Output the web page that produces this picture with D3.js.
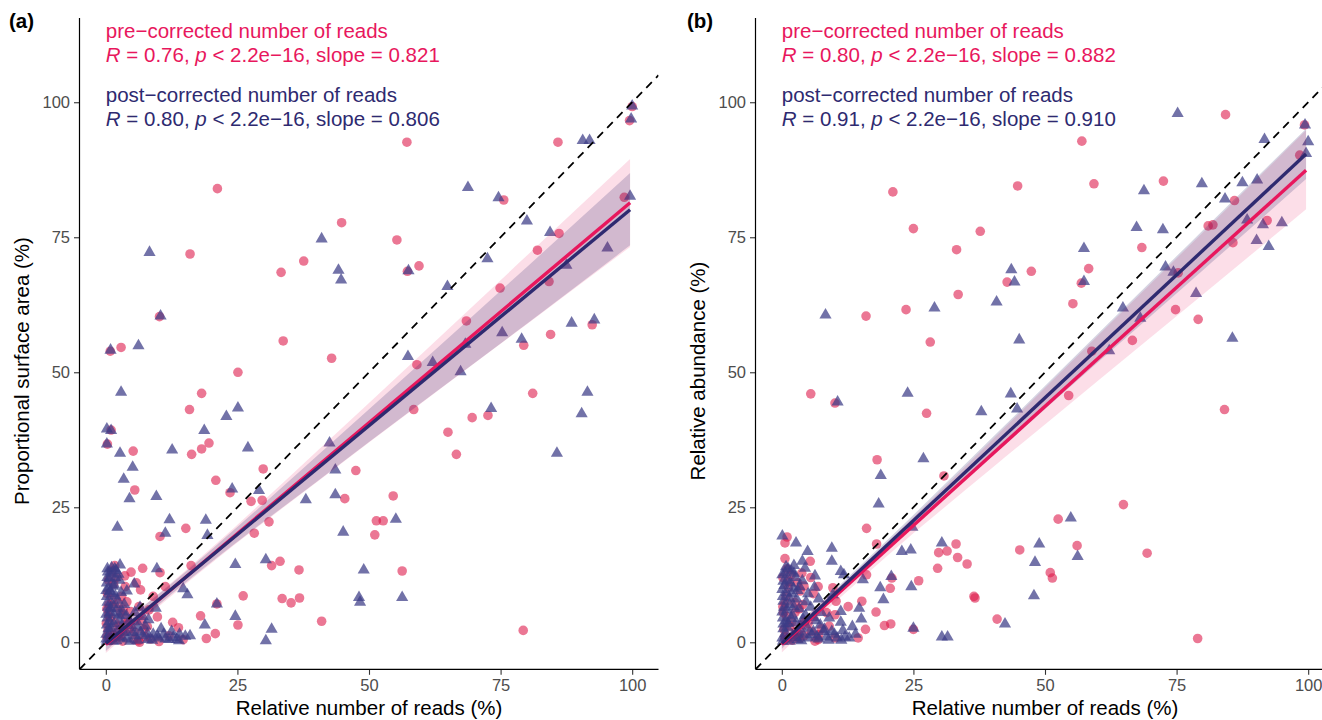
<!DOCTYPE html>
<html><head><meta charset="utf-8">
<script src="https://cdn.jsdelivr.net/npm/d3@7"></script>
<style>
html,body{margin:0;padding:0;background:#fff;}
svg text{font-family:"Liberation Sans",Arial,Helvetica,sans-serif;}
</style></head>
<body><svg id="c" width="1322" height="720"></svg>
<script>
// ---------- DATA ----------
const xTicks = [0, 25, 50, 75, 100];
const yTicks = [0, 25, 50, 75, 100];
const panelTags = ["(a)", "(b)"];
const yTitles = ["Proportional surface area (%)", "Relative abundance (%)"];
const xTitle = "Relative number of reads (%)";
const seriesNames = ["pre\u2212corrected number of reads", "post\u2212corrected number of reads"];
const statR = [["0.76", "0.80"], ["0.80", "0.91"]];
const statSlope = [["0.821", "0.806"], ["0.882", "0.910"]];

// Panel (a): pre-corrected (circles)
const preA = [[57.2,92.6],[21.2,84.0],[85.9,92.6],[98.5,82.4],[75.6,81.9],[44.8,77.7],[55.3,74.5],[86.1,75.7],[82.0,72.6],[16.0,71.9],[37.6,70.6],[33.3,68.5],[57.3,68.7],[59.5,69.7],[74.9,65.6],[84.2,66.8],[68.5,59.5],[84.5,57.0],[92.4,58.8],[79.4,55.0],[33.7,55.8],[10.2,60.3],[0.85,53.9],[2.9,54.6],[42.9,52.6],[99.5,96.6],[100,99.2],
[59.1,51.4],[25.1,50.0],[18.2,46.1],[15.9,43.1],[1.0,39.3],[0.3,36.7],[5.2,35.4],[16.3,34.8],[18.2,35.8],[19.6,36.9],[5.5,28.2],[20.9,30.0],[29.9,32.1],[47.5,31.8],[23.6,27.7],[27.6,26.1],[29.7,26.3],[45.4,26.6],[54.6,27.1],[31.0,22.3],[28.2,20.2],[51.4,22.5],[52.7,22.5],[51.1,19.9],[15.2,21.1],[10.3,19.6],[65.0,38.9],[66.6,34.8],[58.5,43.1],[69.6,41.6],[72.6,42.0],[81.1,46.1],[79.3,2.2],[41.0,3.9],[25.1,3.2],[20.8,1.6],[19.1,0.7],[18.0,4.9],[26.1,8.6],[33.5,8.1],[35.2,7.3],[36.8,8.2],[33.1,15.0],[31.5,14.2],[36.7,13.4],[56.3,13.2],[21.1,7.1],[16.2,14.2],[7.0,13.7],[10.3,12.9],[6.6,9.7],[3.7,10.3],[1.7,14.2],[11.3,10.3],[9.8,4.7],[12.7,3.7],[13.8,2.7],[14.7,0.5],[7.9,2.9],[10.1,0.15],[6.4,0],
[4.0,7.5],[6.3,6.6],[4.7,5.7],[3.7,4.5],[2.1,1.1],[5.3,0.5],[1.0,2.0],[0.5,5.0],[2.5,3.0],[3.0,8.5],[1.5,6.5],[0.3,9.0],[0.2,1.0],[0.8,0.3],[3.2,0.2],[4.5,2.5],[6.8,4.0],[7.5,1.0],[8.5,0.6],[2.0,12.0],[0.5,11.5],[1.2,8.0],[5.8,11.0],[4.8,13.0],[0.1,3.5],[2.8,5.5],[9.0,8.5],[12.0,1.2],[8.2,6.0],
[0.4,2.2],[1.8,3.6],[0.9,4.6],[2.4,7.2],[0.6,7.0],[1.5,10.8],[3.6,12.3],[2.9,1.3],[4.2,3.7],[5.5,1.9],[6.2,0.3],[1.1,13.2],[3.3,6.1],[7.2,2.4],[0.2,6.2]];
// Panel (a): post-corrected (triangles)
const postA = [[90.6,92.9],[91.9,92.9],[100,99.3],[99.8,96.9],[68.8,84.2],[74.6,82.3],[99.6,82.6],[80.0,78.0],[84.4,75.9],[95.3,73.0],[72.5,71.0],[41.0,74.7],[8.3,72.2],[44.2,68.9],[44.7,67.1],[57.5,68.8],[64.9,65.9],[87.5,69.8],[75.3,57.3],[88.5,59.1],[92.8,59.7],[79.0,56.1],[68.3,55.2],[6.2,54.9],[0.9,54.1],[10.4,60.4],[57.4,52.9],[62.1,51.8],
[2.9,46.3],[22.9,41.8],[25.1,43.4],[18.7,39.2],[0.2,39.5],[1.0,39.2],[0.2,36.7],[2.7,35.0],[12.6,35.6],[27.0,36.0],[5.1,32.4],[3.4,30.2],[4.5,26.6],[9.6,27.0],[24.0,28.4],[29.1,28.1],[38.0,26.4],[43.6,31.9],[43.6,27.3],[42.5,36.9],[67.4,50.1],[73.2,43.3],[91.5,46.3],[90.4,42.3],[85.7,35.0],[55.1,22.8],[45.1,20.4],[12.1,22.7],[19.0,22.6],[19.3,19.8],[11.3,20.2],[2.2,21.3],[24.6,14.4],[30.4,15.3],[49.0,13.4],[48.1,8.3],[48.3,7.4],[56.3,8.3],[24.6,4.8],[31.5,2.4],[30.4,0.3],[18.8,3.2],[14.7,9.9],[15.5,8.8],[9.7,13.6],[9.5,6.3],[5.4,10.8],[2.7,14.3],[1.7,13.6],[0.3,13.6],[1.6,10.6],[21.1,7.1],
[8.1,4.2],[15.1,1.1],[13.5,0.5],[12.0,0.5],[11.0,1.5],[10.0,0.8],[9.0,1.5],[8.0,0.5],[7.0,1.2],[6.0,0.4],[5.0,1.8],[4.0,0.6],[3.0,1.0],[2.0,0.3],[1.0,0.8],[0.2,0.2],[0.5,2.5],[0.3,4.5],[0.4,6.5],[0.2,8.5],[0.5,10.0],[0.3,12.0],[1.0,12.8],[1.5,3.5],[2.5,5.0],[3.5,7.0],[1.2,9.0],[3.0,3.0],[4.5,4.0],[6.0,2.8],[7.5,3.0],[2.2,7.8],[0.8,5.5],[2.0,1.8],[3.8,2.0],[5.5,5.5],[6.5,6.5],[0.1,1.5],[1.8,12.0],[2.6,11.5],[4.0,9.5],[10.5,2.5],[12.5,2.0],[14.0,1.5],[16.0,1.2],
[0.1,0.6],[0.6,1.4],[0.2,3.2],[0.7,3.8],[0.1,5.2],[0.9,6.2],[0.3,7.4],[1.3,7.0],[0.1,9.6],[0.8,9.4],[1.4,10.4],[0.2,11.0],[0.7,11.8],[1.1,13.8],[0.4,13.0],[1.9,13.3],[2.4,12.6],[1.6,5.2],[2.2,6.3],[1.8,8.6],[2.9,9.2],[3.2,5.6],[2.6,4.1],[3.9,4.9],[4.8,3.1],[5.6,1.2],[6.6,1.9],[7.9,1.6],[8.8,0.4],[9.8,1.1],[11.3,0.6],[12.8,0.9],[13.9,0.3],[4.6,0.2],[3.4,1.8],[1.4,0.2],[2.6,0.8],[5.9,3.8],[7.0,4.8],[1.0,2.6]];
// Panel (b): pre-corrected (circles)
const preB = [[84.3,97.7],[57.0,92.8],[99.3,95.8],[98.4,90.2],[21.1,83.4],[44.8,84.5],[59.3,84.9],[72.5,85.4],[86.0,81.8],[25.0,76.6],[37.7,76.1],[81.0,77.1],[81.9,77.3],[92.2,78.1],[85.7,74.0],[33.2,72.7],[68.4,73.1],[47.4,68.7],[58.3,69.2],[42.8,66.7],[56.9,66.5],[75.3,68.4],[33.5,64.4],[55.3,62.7],[23.6,61.6],[16.0,60.4],[74.8,61.6],[79.1,59.8],[66.6,55.9],[28.2,55.6],[58.9,53.9],
[5.5,46.0],[10.1,44.3],[27.5,42.4],[54.5,45.7],[84.1,43.1],[18.1,33.8],[30.8,30.8],[64.9,25.5],[52.5,22.8],[16.1,21.1],[1.0,19.5],[0.6,18.4],[18.0,18.2],[33.1,18.2],[56.1,17.9],[45.2,17.1],[29.8,16.6],[31.4,16.9],[69.4,16.5],[33.4,15.7],[35.2,14.5],[5.4,15.0],[29.6,13.7],[51.0,12.9],[51.4,11.9],[20.9,11.9],[26.0,11.4],[16.1,12.5],[6.9,10.3],[9.7,10.1],[20.6,10.0],[36.5,8.5],[36.7,8.2],[15.2,7.6],[10.3,7.6],[12.6,6.6],[17.9,5.6],[10.1,5.1],[40.9,4.3],[20.7,3.4],[19.5,3.1],[15.9,2.4],[25.0,2.4],[14.5,0.8],[79.0,0.7],[10.1,0.8],[6.9,0.5],[3.4,0.8],
[1.5,3.0],[0.5,1.0],[2.5,5.5],[4.0,7.0],[0.8,8.5],[3.0,11.0],[1.8,12.5],[5.0,3.5],[6.0,9.0],[0.3,5.5],[2.0,0.4],[7.5,2.5],[8.5,5.5],[4.2,1.2],[1.2,10.2],[0.2,12.0],[3.5,9.5],[5.5,12.0],[2.8,2.0],[9.0,3.0],[0.6,15.5],
[0.4,2.4],[1.9,3.8],[0.9,4.8],[2.4,7.4],[0.6,7.2],[1.5,11.2],[3.8,12.8],[2.9,1.0],[4.4,3.9],[5.6,2.0],[6.3,0.2],[1.0,13.6],[3.3,6.2],[7.0,1.4],[0.2,6.6],[4.2,10.4]];
// Panel (b): post-corrected (triangles)
const postB = [[75.2,97.9],[99.4,95.8],[100,92.7],[91.7,93.1],[99.6,90.5],[79.8,84.9],[87.5,85.1],[90.3,85.6],[84.2,82.1],[68.8,83.6],[88.4,78.2],[91.4,77.3],[95.0,77.7],[67.4,76.8],[72.4,76.4],[90.2,74.4],[92.5,73.3],[57.4,72.9],[72.9,69.5],[74.4,68.5],[43.6,69.0],[44.2,66.7],[57.4,66.8],[78.7,64.6],[40.8,63.0],[29.0,61.9],[8.3,60.6],[64.8,61.9],[68.1,60.0],[45.1,56.0],[85.6,56.3],[62.2,54.0],
[23.9,46.1],[43.5,46.0],[44.7,43.2],[37.9,42.7],[10.6,44.5],[26.9,34.0],[18.8,30.9],[18.4,25.6],[54.9,23.0],[24.8,21.3],[0.1,19.7],[2.7,18.4],[30.4,18.4],[48.9,18.2],[9.5,17.4],[4.9,16.8],[22.8,16.8],[24.5,17.1],[56.2,15.9],[48.1,14.8],[9.5,15.0],[3.9,15.0],[4.4,13.7],[11.2,13.1],[11.8,12.5],[6.3,12.3],[15.4,11.6],[20.8,12.2],[2.3,12.8],[0.1,12.5],[18.7,10.1],[24.6,10.3],[19.3,7.9],[9.7,8.8],[14.7,6.3],[15.1,4.3],[11.2,5.7],[11.2,3.7],[13.4,2.9],[25.0,2.6],[42.4,3.4],[47.9,8.6],[30.4,1.0],[31.5,1.0],[12.0,1.0],[10.5,0.8],[8.1,2.4],[3.4,10.3],[3.9,11.4],
[0.2,0.2],[1.0,0.6],[2.0,1.2],[3.0,0.5],[4.0,1.5],[5.0,0.8],[6.0,2.0],[7.0,0.6],[8.5,1.0],[9.5,2.0],[0.3,2.5],[0.2,4.5],[0.4,6.5],[0.2,8.5],[0.5,10.5],[1.2,3.5],[2.0,5.0],[1.5,7.0],[2.8,8.0],[3.5,3.0],[4.5,5.0],[5.5,6.5],[6.5,4.0],[7.5,5.5],[1.0,11.5],[2.2,10.0],[5.0,9.0],[7.0,8.0],[0.8,14.0],[1.8,13.2],[12.8,0.8],[14.0,1.5],[9.0,4.5],
[0.1,0.8],[0.7,1.6],[0.3,3.4],[0.8,4.0],[0.1,5.6],[1.0,6.0],[0.3,7.6],[1.4,8.2],[0.1,9.8],[0.9,9.2],[1.6,11.0],[0.3,11.3],[0.6,12.9],[1.2,13.6],[2.3,14.2],[2.6,12.0],[1.8,4.4],[2.3,6.6],[1.9,9.0],[3.0,9.6],[3.3,6.2],[2.7,3.6],[4.0,4.3],[4.9,2.6],[5.7,1.4],[6.7,1.0],[8.0,2.0],[8.9,0.4],[10.0,1.5],[11.3,0.4],[11.6,2.2],[3.7,0.3],[3.2,1.9],[1.5,0.2],[2.6,0.9],[6.0,4.6],[7.3,3.2],[1.0,2.8],[4.6,7.5],[6.2,10.2]];

// Fitted lines (read endpoints) and confidence bands (read at bandX)
const fitX = [0, 99.6];
const fitPreA = [-0.4, 81.4];
const fitPostA = [-0.2, 80.1];
const fitPreB = [-0.4, 87.4];
const fitPostB = [-0.2, 90.4];
const bandX = [0, 10, 20, 40, 60, 80, 99.6];
const bandPreA_lo = [-2.0, 6.6, 14.6, 29.6, 44.3, 58.9, 73.2];
const bandPreA_hi = [1.2, 9.0, 17.4, 35.3, 53.4, 71.6, 89.5];
const bandPostA_lo = [-1.6, 6.9, 14.8, 29.7, 44.4, 59.0, 73.5];
const bandPostA_hi = [1.2, 8.9, 17.1, 34.4, 51.9, 69.5, 86.9];
const bandPreB_lo = [-1.9, 7.3, 16.0, 32.3, 48.4, 64.4, 80.2];
const bandPreB_hi = [1.1, 9.5, 18.5, 37.5, 56.7, 75.9, 94.8];
const bandPostB_lo = [-1.2, 8.1, 17.1, 34.5, 51.8, 68.9, 85.8];
const bandPostB_hi = [0.8, 9.7, 18.9, 37.9, 57.1, 76.3, 95.1];

// ---------- STYLE ----------
const colPre = "#E8175D", colPost = "#2E2A70";
const ptPre = "#DC1446", ptPost = "#3C3C86";
const svg = d3.select("#c");

const panels = [
  {pre: preA, post: postA, fitPre: fitPreA, fitPost: fitPostA,
   bPreLo: bandPreA_lo, bPreHi: bandPreA_hi, bPostLo: bandPostA_lo, bPostHi: bandPostA_hi,
   xr: [79.5, 658.5], tagX: 9, yTitleX: 29},
  {pre: preB, post: postB, fitPre: fitPreB, fitPost: fitPostB,
   bPreLo: bandPreB_lo, bPreHi: bandPreB_hi, bPostLo: bandPostB_lo, bPostHi: bandPostB_hi,
   xr: [755.5, 1334.5], tagX: 687, yTitleX: 705}
];

const yScale = d3.scaleLinear().domain([-5, 115.6]).range([669.3, 18]);

panels.forEach((p, i) => {
  const x = d3.scaleLinear().domain([-5, 105]).range(p.xr);
  const y = yScale;
  const g = svg.append("g");
  const clipId = "clip" + i;
  g.append("clipPath").attr("id", clipId).append("rect")
    .attr("x", p.xr[0]).attr("y", 18).attr("width", p.xr[1] - p.xr[0]).attr("height", 669.3 - 18);
  const plot = g.append("g").attr("clip-path", `url(#${clipId})`);

  // points: pre circles
  plot.append("g").selectAll("circle").data(p.pre).join("circle")
    .attr("cx", d => x(d[0])).attr("cy", d => y(d[1])).attr("r", 4.8)
    .attr("fill", ptPre).attr("fill-opacity", 0.58);
  // post triangles
  const tri = d3.symbol().type(d3.symbolTriangle).size(64);
  plot.append("g").selectAll("path").data(p.post).join("path")
    .attr("d", tri)
    .attr("transform", d => `translate(${x(d[0])},${y(d[1])})`)
    .attr("fill", ptPost).attr("fill-opacity", 0.72);

  // bands
  const band = (lo, hi) => d3.area().curve(d3.curveMonotoneX)
    .x((d, k) => x(bandX[k])).y0((d, k) => y(lo[k])).y1((d, k) => y(hi[k]))(bandX);
  plot.append("path").attr("d", band(p.bPreLo, p.bPreHi)).attr("fill", colPre).attr("fill-opacity", 0.14);
  plot.append("path").attr("d", band(p.bPostLo, p.bPostHi)).attr("fill", colPost).attr("fill-opacity", 0.2);

  // fitted lines
  const ln = d3.line().x((d, k) => x(fitX[k])).y(d => y(d));
  plot.append("path").attr("d", ln(p.fitPre)).attr("stroke", colPre).attr("stroke-width", 3.4).attr("fill", "none");
  plot.append("path").attr("d", ln(p.fitPost)).attr("stroke", colPost).attr("stroke-width", 3.4).attr("fill", "none");

  // identity dashed line
  plot.append("line").attr("x1", x(-5)).attr("y1", y(-5)).attr("x2", x(105)).attr("y2", y(105))
    .attr("stroke", "#000").attr("stroke-width", 1.8).attr("stroke-dasharray", "8,6");

  // axes
  const ax = g.append("g").attr("transform", `translate(0,669.3)`)
    .call(d3.axisBottom(x).tickValues(xTicks).tickSize(5.5).tickPadding(4).tickSizeOuter(0));
  ax.select(".domain").remove();
  ax.selectAll(".tick line").attr("stroke", "#333").attr("stroke-width", 1.1);
  ax.selectAll(".tick text").attr("fill", "#4D4D4D").attr("font-size", 16.5)
    .attr("font-family", "Liberation Sans, Arial, sans-serif");
  const ay = g.append("g").attr("transform", `translate(${p.xr[0]},0)`)
    .call(d3.axisLeft(y).tickValues(yTicks).tickSize(5.5).tickPadding(4).tickSizeOuter(0));
  ay.select(".domain").remove();
  ay.selectAll(".tick line").attr("stroke", "#333").attr("stroke-width", 1.1);
  ay.selectAll(".tick text").attr("fill", "#4D4D4D").attr("font-size", 16.5)
    .attr("font-family", "Liberation Sans, Arial, sans-serif");
  g.append("line").attr("x1", p.xr[0]).attr("x2", p.xr[1]).attr("y1", 669.3).attr("y2", 669.3)
    .attr("stroke", "#000").attr("stroke-width", 1.2);
  g.append("line").attr("x1", p.xr[0]).attr("x2", p.xr[0]).attr("y1", 18).attr("y2", 669.3)
    .attr("stroke", "#000").attr("stroke-width", 1.2);

  // titles
  g.append("text").attr("x", (p.xr[0] + p.xr[0] + 579) / 2).attr("y", 715)
    .attr("text-anchor", "middle").attr("font-size", 20.5).attr("fill", "#000").text(xTitle);
  g.append("text").attr("transform", `translate(${p.yTitleX},371) rotate(-90)`)
    .attr("text-anchor", "middle").attr("font-size", 20.5).attr("fill", "#000").text(yTitles[i]);
  g.append("text").attr("x", p.tagX).attr("y", 28).attr("font-size", 20.5).attr("font-weight", "bold")
    .attr("fill", "#000").text(panelTags[i]);

  // annotations
  const ax0 = x(0);
  const ann = [[seriesNames[0], 37.5, colPre, null], [null, 62, colPre, 0], [seriesNames[1], 101.5, colPost, null], [null, 126, colPost, 1]];
  ann.forEach(a => {
    const t = g.append("text").attr("x", ax0).attr("y", a[1]).attr("font-size", 20.5).attr("fill", a[2]);
    if (a[0]) { t.text(a[0]); }
    else {
      const k = a[3];
      t.append("tspan").attr("font-style", "italic").text("R");
      t.append("tspan").text(` = ${statR[i][k]}, `);
      t.append("tspan").attr("font-style", "italic").text("p");
      t.append("tspan").text(` < 2.2e\u221216, slope = ${statSlope[i][k]}`);
    }
  });
});
</script></body></html>
